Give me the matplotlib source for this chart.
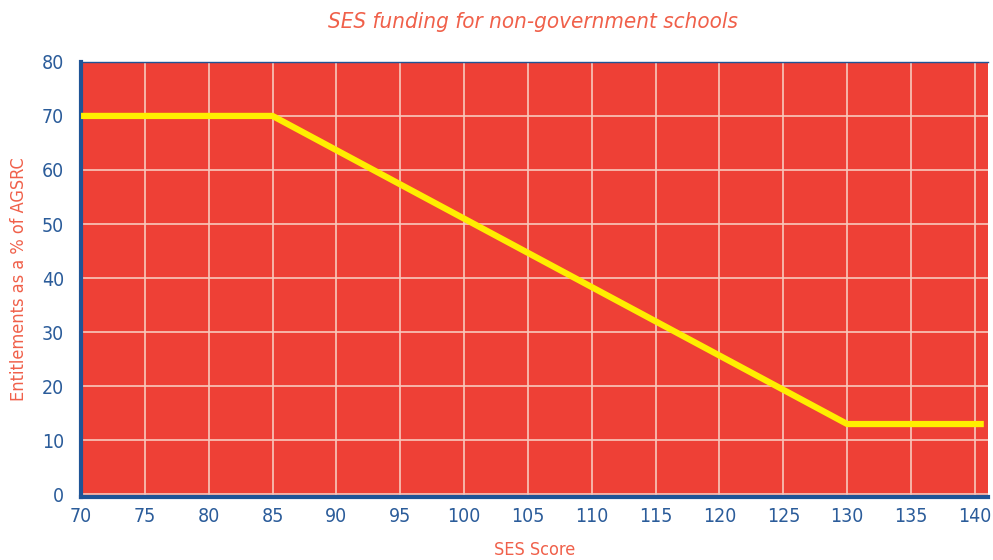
import matplotlib
matplotlib.use("Agg")
import matplotlib.pyplot as plt

plt.rcParams['font.family'] = ['DejaVu Sans']
plt.rcParams['font.stretch'] = 'condensed'

ses_score = [70, 85, 130, 140.7]
entitlement = [70, 70, 13, 13]
x_ticks = [70, 75, 80, 85, 90, 95, 100, 105, 110, 115, 120, 125, 130, 135, 140]
y_ticks = [0, 10, 20, 30, 40, 50, 60, 70, 80]

blue = "#2B5C9A"
salmon = "#F0604A"

fig = plt.figure(figsize=(9.93, 5.6), dpi=100)
ax = fig.add_axes([0.0816, 0.1125, 0.913, 0.777])
ax.set_facecolor("#EE4036")

ax.plot(ses_score, entitlement, color="#FFEE00", lw=4.5, solid_capstyle="butt",
        solid_joinstyle="miter", zorder=3)

ax.set_xlim(70, 141)
ax.set_ylim(-0.5, 80)
ax.set_xticks(x_ticks)
ax.set_yticks(y_ticks)
ax.grid(True, color="#F8C8BC", lw=1.2, zorder=1)
ax.set_axisbelow(True)

for s in ["left", "bottom"]:
    ax.spines[s].set_color("#1F5496")
    ax.spines[s].set_linewidth(3)
ax.spines["top"].set_color("#1F5496")
ax.spines["top"].set_linewidth(1)
ax.spines["right"].set_visible(False)

ax.tick_params(axis="both", length=0, labelsize=14, labelcolor=blue)
ax.tick_params(axis="x", pad=7)
ax.tick_params(axis="y", pad=12)

ax.set_xlabel("SES Score", fontsize=13, color=salmon, labelpad=11)
ax.set_ylabel("Entitlements as a % of AGSRC", fontsize=13, color=salmon, labelpad=10)
fig.text(0.537, 0.96, "SES funding for non-government schools", fontsize=16,
         color=salmon, style="italic", ha="center", va="center")

fig.savefig("out.png", dpi=100)
